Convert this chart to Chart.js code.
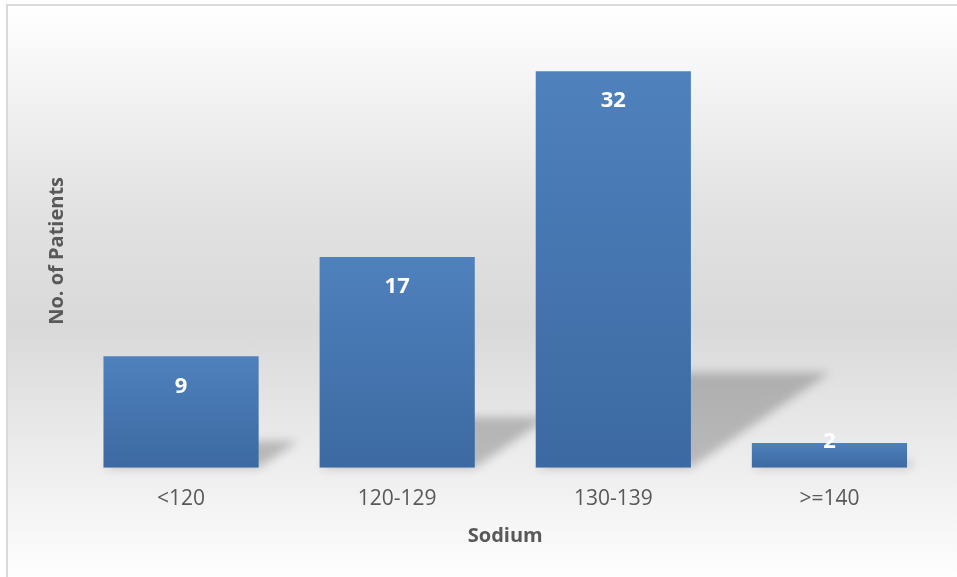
<!DOCTYPE html>
<html>
<head>
<meta charset="utf-8">
<script src="https://cdn.jsdelivr.net/npm/chart.js@4/dist/chart.umd.min.js"></script>
<style>
    html, body { margin: 0; padding: 0; width: 957px; height: 577px; overflow: hidden; background: #fff; }
    #frame {
        position: absolute; left: 6px; top: 4px; width: 960px; height: 580px;
        border-left: 2px solid #d9d9d9; border-top: 2px solid #d9d9d9;
        background: linear-gradient(to bottom, #ffffff 0%, #e2e2e2 35%, #d9d9d9 55%, #f0f0f0 82%, #ffffff 100%);
    }
    #wrap { position: absolute; left: 0; top: 0; width: 957px; height: 577px; }
</style>
</head>
<body>
<div id="frame"></div>
<div id="wrap"><canvas id="sodiumChart" width="957" height="577"></canvas></div>
<script>
// Sodium ranges and patient counts
const categories = ["<120", "120-129", "130-139", ">=140"];
const patients = [9, 17, 32, 2];
const yMax = 35;

// each bar gets its own top-to-bottom gradient
function barGradient(c) {
    const chart = c.chart;
    const y = chart.scales.y;
    if (!chart.chartArea || !y || c.raw === undefined) return "#4672ad";
    const top = y.getPixelForValue(c.raw);
    const base = y.getPixelForValue(0);
    const g = chart.ctx.createLinearGradient(0, top, 0, base);
    g.addColorStop(0, "#4f81bd");
    g.addColorStop(1, "#3c69a1");
    return g;
}

// perspective shadow behind each bar and the value labels
const barStyle = {
    id: "barStyle",
    beforeDatasetsDraw(chart) {
        const ctx = chart.ctx;
        ctx.save();
        ctx.filter = "blur(5px)";
        ctx.fillStyle = "rgba(0,0,0,0.22)";
        chart.getDatasetMeta(0).data.forEach(bar => {
            const h = bar.base - bar.y;
            const sh = h * 0.24;
            const sx = h * 0.35;
            const l = bar.x - bar.width / 2;
            const r = bar.x + bar.width / 2;
            ctx.beginPath();
            ctx.moveTo(l, bar.base);
            ctx.lineTo(r, bar.base);
            ctx.lineTo(r + sx, bar.base - sh);
            ctx.lineTo(l + sx, bar.base - sh);
            ctx.closePath();
            ctx.fill();
        });
        ctx.restore();
    },
    afterDatasetsDraw(chart) {
        const ctx = chart.ctx;
        ctx.save();
        ctx.fillStyle = "#ffffff";
        ctx.font = "bold 22px 'Open Sans'";
        ctx.textAlign = "center";
        ctx.textBaseline = "middle";
        chart.getDatasetMeta(0).data.forEach((bar, i) => {
            const y = Math.min(bar.y + 30, bar.base - 26);
            ctx.fillText(String(patients[i]), bar.x, y);
        });
        ctx.restore();
    }
};

new Chart(document.getElementById("sodiumChart").getContext("2d"), {
    type: "bar",
    data: {
        labels: categories,
        datasets: [{
            label: "No. of Patients",
            data: patients,
            backgroundColor: barGradient,
            borderWidth: 0,
            barPercentage: 0.718,
            categoryPercentage: 1
        }]
    },
    options: {
        responsive: false,
        animation: false,
        layout: { padding: { left: 45, right: 19.5, top: 34, bottom: 29 } },
        plugins: {
            legend: { display: false },
            tooltip: { enabled: false }
        },
        scales: {
            x: {
                grid: { display: false, drawTicks: false },
                border: { display: false },
                ticks: { color: "#595959", font: { family: "'Open Sans'", size: 21 }, padding: 19 },
                title: {
                    display: true, text: "Sodium", color: "#595959",
                    font: { family: "'Open Sans'", size: 20, weight: "bold" },
                    padding: { top: -7, bottom: 0 }
                }
            },
            y: {
                min: 0, max: yMax,
                grid: { display: false, drawTicks: false },
                border: { display: false },
                ticks: { display: false },
                title: {
                    display: true, text: "No. of Patients", color: "#595959",
                    font: { family: "'Open Sans'", size: 20, weight: "bold" },
                    padding: { top: 0, bottom: 4 }
                }
            }
        }
    },
    plugins: [barStyle]
});
</script>
</body>
</html>
